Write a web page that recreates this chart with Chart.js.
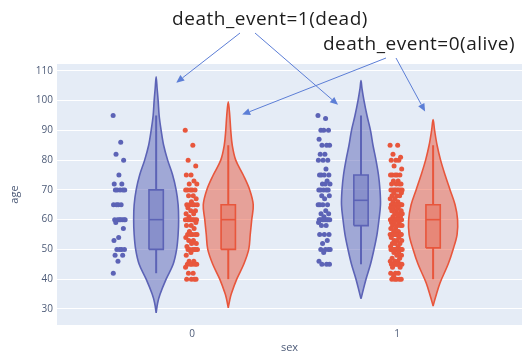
<!DOCTYPE html>
<html>
<head>
<meta charset="utf-8">
<script src="https://cdn.jsdelivr.net/npm/chart.js@4.4.0/dist/chart.umd.min.js"></script>
<style>
  html, body { margin: 0; padding: 0; background: #ffffff; }
  canvas { display: block; }
</style>
</head>
<body>
<canvas id="chart" width="527" height="353"></canvas>
<script>
// ---- data ---------------------------------------------------------------
const categories = ['0', '1'];               // sex
const ageTicks = [30, 40, 50, 60, 70, 80, 90, 100, 110];

// patient ages per group
const agesDeadSex0 = [95, 86, 82, 80, 75, 72, 72, 70, 70, 70, 70, 70, 65, 65, 65, 65,
  60, 60, 60, 60, 60, 60, 60, 59, 57, 54, 53, 50, 50, 50, 50, 48, 48, 46, 42];
const agesAliveSex0 = [90, 85, 80, 78, 75, 75, 73, 72, 72, 70, 70, 70, 70, 70, 68, 68,
  67, 66, 65, 65, 65, 65, 65, 64, 63, 63, 62, 62, 61, 60, 60, 60, 60, 60, 60, 60, 60,
  59, 58, 58, 57, 56, 55, 55, 55, 55, 55, 54, 53, 53, 52, 52, 51, 50, 50, 50, 50, 50,
  50, 49, 48, 46, 46, 45, 45, 45, 45, 45, 44, 42, 42, 40, 40, 40, 40];
const agesDeadSex1 = [95, 94, 90, 90, 90, 87, 85, 85, 85, 82, 82, 80, 80, 80, 77, 75,
  75, 75, 75, 73, 72, 72, 72, 70, 70, 70, 70, 70, 68, 68, 67, 65, 65, 65, 65, 63, 62,
  62, 61, 60, 60, 60, 60, 60, 60, 60, 60, 59, 58, 58, 55, 55, 55, 53, 52, 50, 50, 50,
  50, 49, 46, 45, 45, 45];
const agesAliveSex1 = [85, 85, 82, 81, 80, 80, 80, 78, 77, 75, 75, 75, 75, 75, 73, 73,
  72, 72, 72, 72, 70, 70, 70, 70, 70, 70, 70, 70, 69, 69, 68, 68, 68, 67, 67, 66, 66,
  65, 65, 65, 65, 65, 65, 65, 65, 65, 65, 64, 64, 64, 63, 63, 63, 62, 62, 62, 61, 61,
  61, 60, 60, 60, 60, 60, 60, 60, 60, 60, 60, 60, 60, 60, 60, 59, 59, 59, 58, 58, 58,
  58, 57, 57, 56, 56, 55, 55, 55, 55, 55, 55, 55, 55, 55, 55, 54, 54, 53, 53, 53, 52,
  52, 52, 51, 51, 50, 50, 50, 50, 50, 50, 50, 50, 50, 50, 50, 50, 49, 49, 48, 48, 47,
  47, 46, 46, 46, 45, 45, 45, 45, 45, 45, 45, 45, 44, 44, 42, 42, 42, 41, 40, 40, 40,
  40, 40];

// box statistics: [lower whisker, q1, median, q3, upper whisker]
const boxDeadSex0 = [42, 50, 60, 70, 95];
const boxAliveSex0 = [40, 50, 60, 65, 85];
const boxDeadSex1 = [45, 58, 66.5, 75, 95];
const boxAliveSex1 = [40, 50.5, 60, 65, 85];

// kernel density profiles: age levels and density (half-width) at each level
const levelsDeadSex0 = [28.7, 32, 35, 40, 45, 50, 55, 60, 65, 70, 75, 80, 85, 90, 95, 100, 104, 108];
const densDeadSex0   = [0, 1.5, 4, 10, 17, 20.5, 22, 22.5, 22, 20, 16.5, 11.5, 7.5, 5, 3, 2, 1, 0];
const levelsAliveSex0 = [30.4, 33, 35, 40, 45, 50, 55, 60, 65, 70, 75, 80, 85, 90, 95, 99.6];
const densAliveSex0   = [0, 1.5, 3, 8.5, 15.5, 20.5, 22, 23.5, 25, 21.5, 15, 7.5, 4, 2.5, 1.5, 0];
const levelsDeadSex1 = [33.4, 35.4, 40, 45, 50, 55, 60, 65, 70, 75, 80, 85, 90, 95, 100, 104, 106.7];
const densDeadSex1   = [0, 1.5, 5, 9.5, 13, 16, 18, 19.5, 19, 17.5, 15, 12, 9.5, 6, 3, 1, 0];
const levelsAliveSex1 = [31, 34, 38.8, 45, 50, 55, 60, 65, 70, 75, 80, 85, 90, 93.6];
const densAliveSex1   = [0, 2.5, 7, 15, 20, 24, 24.5, 22, 17, 12, 7.5, 4, 1.5, 0];

// ---- styling ------------------------------------------------------------
const BLUE = 'rgb(92, 99, 182)';
const BLUE_FILL = 'rgba(92, 99, 182, 0.5)';
const BLUE_BOX = 'rgba(92, 99, 182, 0.35)';
const RED = 'rgb(232, 86, 60)';
const RED_FILL = 'rgba(232, 86, 60, 0.5)';
const RED_BOX = 'rgba(232, 86, 60, 0.35)';
const FONT = '"Open Sans", "Noto Sans", Arial, sans-serif';
const AXIS_TEXT = '#4d5b78';

const GROUP_OFFSET = 0.176;    // violin centre distance from category centre
const POINT_OFFSET = -0.18;    // jittered points sit left of each violin
const JITTER = 0.03;
const BOX_HALF = 0.035;
const DENS_TO_X = 1 / 205;     // density units -> category units

function violinOutline(center, levels, dens) {
  const right = levels.map((y, i) => ({ x: center + dens[i] * DENS_TO_X, y }));
  const left = levels.map((y, i) => ({ x: center - dens[i] * DENS_TO_X, y })).reverse();
  return right.concat(left.slice(1));
}

function jitterAt(i) {
  return (((i * 0.6180339887) % 1) - 0.5) * 2 * JITTER;
}

function groupDatasets(center, ages, box, levels, dens, line, fill, boxFill) {
  const [lo, q1, med, q3, hi] = box;
  const base = { showLine: true, pointRadius: 0, pointHoverRadius: 0, borderColor: line };
  return [
    Object.assign({}, base, {
      data: violinOutline(center, levels, dens),
      fill: 'shape', backgroundColor: fill, borderWidth: 1.6, tension: 0.35, order: 3
    }),
    Object.assign({}, base, {
      data: [{ x: center, y: lo }, { x: center, y: q1 }],
      borderWidth: 2, tension: 0, order: 2
    }),
    Object.assign({}, base, {
      data: [{ x: center, y: q3 }, { x: center, y: hi }],
      borderWidth: 2, tension: 0, order: 2
    }),
    Object.assign({}, base, {
      data: [
        { x: center - BOX_HALF, y: q1 }, { x: center + BOX_HALF, y: q1 },
        { x: center + BOX_HALF, y: q3 }, { x: center - BOX_HALF, y: q3 },
        { x: center - BOX_HALF, y: q1 }
      ],
      fill: 'shape', backgroundColor: boxFill, borderWidth: 1.6, tension: 0, order: 1
    }),
    Object.assign({}, base, {
      data: [{ x: center - BOX_HALF, y: med }, { x: center + BOX_HALF, y: med }],
      borderWidth: 1.6, tension: 0, order: 1
    }),
    {
      data: ages.map((a, i) => ({ x: center + POINT_OFFSET + jitterAt(i), y: a })),
      showLine: false, pointRadius: 2.5, pointHoverRadius: 2.5,
      pointBackgroundColor: line, pointBorderWidth: 0, order: 0
    }
  ];
}

const datasets = [].concat(
  groupDatasets(0 - GROUP_OFFSET, agesDeadSex0, boxDeadSex0, levelsDeadSex0, densDeadSex0, BLUE, BLUE_FILL, BLUE_BOX),
  groupDatasets(0 + GROUP_OFFSET, agesAliveSex0, boxAliveSex0, levelsAliveSex0, densAliveSex0, RED, RED_FILL, RED_BOX),
  groupDatasets(1 - GROUP_OFFSET, agesDeadSex1, boxDeadSex1, levelsDeadSex1, densDeadSex1, BLUE, BLUE_FILL, BLUE_BOX),
  groupDatasets(1 + GROUP_OFFSET, agesAliveSex1, boxAliveSex1, levelsAliveSex1, densAliveSex1, RED, RED_FILL, RED_BOX)
);

// ---- plugins ------------------------------------------------------------
const plotBackground = {
  id: 'plotBackground',
  beforeDraw(chart) {
    const { ctx, chartArea: a } = chart;
    ctx.save();
    ctx.fillStyle = '#E5ECF6';
    ctx.fillRect(a.left, a.top, a.right - a.left, a.bottom - a.top);
    ctx.restore();
  }
};

// callout labels with arrows pointing at the violins
const callouts = [
  { text: 'death_event=1(dead)', cx: 270, cy: 20,
    arrows: [{ from: [240, 33], to: [-0.078, 106.0] }, { from: [255, 33], to: [0.712, 98.6] }] },
  { text: 'death_event=0(alive)', cx: 419, cy: 45,
    arrows: [{ from: [386, 58], to: [0.244, 95.3] }, { from: [396, 58], to: [1.137, 96.3] }] }
];

const calloutPlugin = {
  id: 'callouts',
  afterDraw(chart) {
    const { ctx, scales } = chart;
    ctx.save();
    ctx.strokeStyle = 'rgb(92, 126, 214)';
    ctx.fillStyle = 'rgb(92, 126, 214)';
    ctx.lineWidth = 1;
    callouts.forEach(c => {
      c.arrows.forEach(ar => {
        const x0 = ar.from[0], y0 = ar.from[1];
        const x1 = scales.x.getPixelForValue(ar.to[0]);
        const y1 = scales.y.getPixelForValue(ar.to[1]);
        const ang = Math.atan2(y1 - y0, x1 - x0);
        const len = 8, half = 3.5;
        const bx = x1 - Math.cos(ang) * len, by = y1 - Math.sin(ang) * len;
        ctx.beginPath();
        ctx.moveTo(x0, y0);
        ctx.lineTo(bx, by);
        ctx.stroke();
        ctx.beginPath();
        ctx.moveTo(x1, y1);
        ctx.lineTo(bx - Math.sin(ang) * half, by + Math.cos(ang) * half);
        ctx.lineTo(bx + Math.sin(ang) * half, by - Math.cos(ang) * half);
        ctx.closePath();
        ctx.fill();
      });
    });
    ctx.fillStyle = '#1c1c1c';
    ctx.font = '19px ' + FONT;
    if ('letterSpacing' in ctx) ctx.letterSpacing = '0.5px';
    ctx.textAlign = 'center';
    ctx.textBaseline = 'middle';
    callouts.forEach(c => ctx.fillText(c.text, c.cx, c.cy));
    ctx.restore();
  }
};

// ---- chart --------------------------------------------------------------
new Chart(document.getElementById('chart'), {
  type: 'scatter',
  data: { datasets },
  options: {
    responsive: false,
    animation: false,
    devicePixelRatio: 1,
    layout: { padding: { left: 0, right: 5, top: 64, bottom: 0 } },
    plugins: { legend: { display: false }, tooltip: { enabled: false } },
    scales: {
      x: {
        type: 'linear',
        min: -0.66,
        max: 1.61,
        afterBuildTicks: s => { s.ticks = categories.map((c, i) => ({ value: i })); },
        afterFit: s => { s.height = 28; },
        grid: { display: false, drawTicks: false },
        border: { display: false },
        ticks: {
          callback: v => categories[v],
          font: { family: FONT, size: 10 },
          color: AXIS_TEXT,
          padding: 3,
          maxRotation: 0
        },
        title: {
          display: true, text: 'sex', color: AXIS_TEXT,
          font: { family: FONT, size: 11, lineHeight: 1 }, padding: { top: 0, bottom: 0 }
        }
      },
      y: {
        type: 'linear',
        min: 24.6,
        max: 112.3,
        afterBuildTicks: s => { s.ticks = ageTicks.map(v => ({ value: v })); },
        afterFit: s => { s.width = 57; },
        grid: { color: '#ffffff', lineWidth: 1, drawTicks: false },
        border: { display: false },
        ticks: { font: { family: FONT, size: 10 }, color: AXIS_TEXT, padding: 4 },
        title: {
          display: true, text: 'age', color: AXIS_TEXT,
          font: { family: FONT, size: 11 }, padding: { top: 8, bottom: 0 }
        }
      }
    }
  },
  plugins: [plotBackground, calloutPlugin]
});
</script>
</body>
</html>
